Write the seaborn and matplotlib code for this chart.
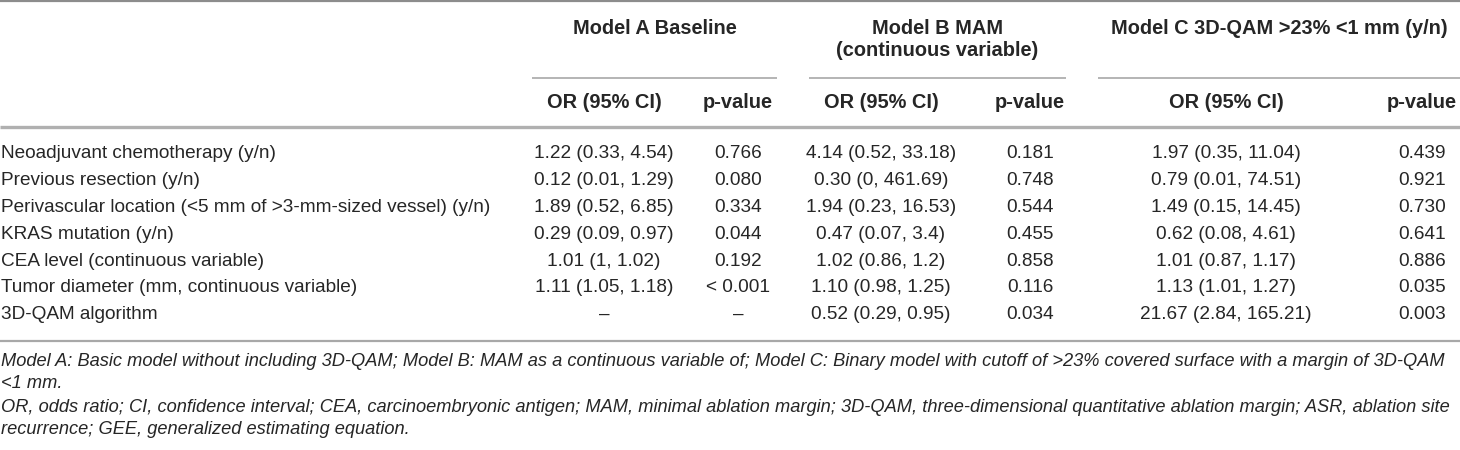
import matplotlib
matplotlib.use("Agg")
import matplotlib.pyplot as plt
import seaborn as sns

# ---------------- data ----------------
row_labels = [
    "Neoadjuvant chemotherapy (y/n)",
    "Previous resection (y/n)",
    "Perivascular location (<5 mm of >3-mm-sized vessel) (y/n)",
    "KRAS mutation (y/n)",
    "CEA level (continuous variable)",
    "Tumor diameter (mm, continuous variable)",
    "3D-QAM algorithm",
]
model_titles = ["Model A Baseline", "Model B MAM\n(continuous variable)", "Model C 3D-QAM >23% <1 mm (y/n)"]
sub_headers = ["OR (95% CI)", "p-value", "OR (95% CI)", "p-value", "OR (95% CI)", "p-value"]

a_or = ["1.22 (0.33, 4.54)", "0.12 (0.01, 1.29)", "1.89 (0.52, 6.85)", "0.29 (0.09, 0.97)",
        "1.01 (1, 1.02)", "1.11 (1.05, 1.18)", "–"]
a_p = ["0.766", "0.080", "0.334", "0.044", "0.192", "< 0.001", "–"]
b_or = ["4.14 (0.52, 33.18)", "0.30 (0, 461.69)", "1.94 (0.23, 16.53)", "0.47 (0.07, 3.4)",
        "1.02 (0.86, 1.2)", "1.10 (0.98, 1.25)", "0.52 (0.29, 0.95)"]
b_p = ["0.181", "0.748", "0.544", "0.455", "0.858", "0.116", "0.034"]
c_or = ["1.97 (0.35, 11.04)", "0.79 (0.01, 74.51)", "1.49 (0.15, 14.45)", "0.62 (0.08, 4.61)",
        "1.01 (0.87, 1.17)", "1.13 (1.01, 1.27)", "21.67 (2.84, 165.21)"]
c_p = ["0.439", "0.921", "0.730", "0.641", "0.886", "0.035", "0.003"]

footnote_lines = [
    "Model A: Basic model without including 3D-QAM; Model B: MAM as a continuous variable of; Model C: Binary model with cutoff of >23% covered surface with a margin of 3D-QAM",
    "<1 mm.",
    "OR, odds ratio; CI, confidence interval; CEA, carcinoembryonic antigen; MAM, minimal ablation margin; 3D-QAM, three-dimensional quantitative ablation margin; ASR, ablation site",
    "recurrence; GEE, generalized estimating equation.",
]

# ---------------- layout (pixels) ----------------
W, H = 1460, 450
PX = 72 / 100.0  # px -> pt at dpi 100
col_x = [604, 738, 881, 1030, 1226, 1422]
group_spans = [(532, 777), (809, 1066), (1098, 1460)]
title_y, title_dy = 28, 22
sub_line_y = 78
sub_hdr_y = 103
thick_y = 127
row_y0, row_dy = 154, 26.8
bottom_y = 341
foot_y = [362, 384, 407, 429]

text_col = "#262626"

sns.set_theme(style="white")
plt.rcParams["font.family"] = ["Liberation Sans", "DejaVu Sans"]

fig = plt.figure(figsize=(W / 100, H / 100), dpi=100)
ax = fig.add_axes([0, 0, 1, 1])
ax.set_xlim(0, W)
ax.set_ylim(H, 0)
ax.axis("off")

body_fs = 19 * PX
head_fs = 20 * PX

# rules
ax.hlines(1, 0, W, color="#8c8c8c", lw=1.6)
for (x0, x1) in group_spans:
    ax.hlines(sub_line_y, x0, x1, color="#b4b4b4", lw=1.4)
ax.hlines(thick_y, 0, W, color="#b0b0b0", lw=2.4)
ax.hlines(bottom_y, 0, W, color="#a8a8a8", lw=1.6)

# model titles
for (x0, x1), title in zip(group_spans, model_titles):
    for i, line in enumerate(title.split("\n")):
        ax.text((x0 + x1) / 2, title_y + i * title_dy, line, ha="center", va="center",
                fontsize=head_fs, fontweight="bold", color=text_col)

# sub headers
for x, s in zip(col_x, sub_headers):
    ax.text(x, sub_hdr_y, s, ha="center", va="center", fontsize=head_fs,
            fontweight="bold", color=text_col)

# body
columns = [a_or, a_p, b_or, b_p, c_or, c_p]
for r, label in enumerate(row_labels):
    y = row_y0 + r * row_dy
    ax.text(1, y, label, ha="left", va="center", fontsize=body_fs, color=text_col)
    for x, col in zip(col_x, columns):
        ax.text(x, y, col[r], ha="center", va="center", fontsize=body_fs, color=text_col)

# footnotes (size fitted so the widest line spans the table width)
fig.canvas.draw()
renderer = fig.canvas.get_renderer()
widths = []
for line in footnote_lines:
    probe = ax.text(0, 0, line, fontsize=17 * PX, style="italic")
    widths.append(probe.get_window_extent(renderer=renderer).width)
    probe.remove()
foot_fs = 17 * PX * (1456 / max(widths))
for y, line in zip(foot_y, footnote_lines):
    ax.text(1, y, line, ha="left", va="center", fontsize=foot_fs, style="italic", color=text_col)

fig.savefig("out.png", dpi=100, facecolor="white")
